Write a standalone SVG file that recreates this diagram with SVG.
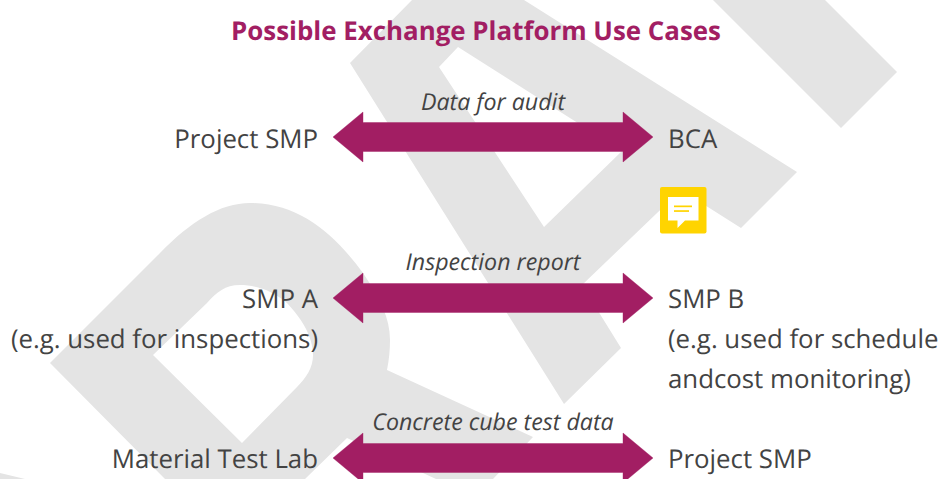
<svg xmlns="http://www.w3.org/2000/svg" width="940" height="479" viewBox="0 0 940 479">
<style>
.wm{fill:#e4e4e4;fill-rule:evenodd}
.arrow{fill:#a21e63;stroke:#a21e63;stroke-width:.4}
text{font-family:"Open Sans","Noto Sans","Liberation Sans",sans-serif;fill:#434343;text-rendering:geometricPrecision}
.t{font-size:25.8px}
.r{text-anchor:end}
.l{font-size:23.2px;font-style:italic;text-anchor:middle}
.title{font-size:25.9px;font-weight:700;fill:#a21e63;text-anchor:middle}
</style>
<defs>
<path id="dbl" d="M-160 0L-130 -25V-14.5H130V-25L160 0L130 25V14.5H-130V25Z"/>
</defs>
<g id="watermark">
<path class="wm" d="M350 63L412 0H524L797 172L741 228L681 190L582 285L621 348L564 404ZM439 67L458 47L622 151L544 227Z"/>
<path class="wm" d="M713 0H825L897 72L841 128Z"/>
<path class="wm" d="M50 363L160 253C190 222 220 203 250 203C300 203 335 235 363 273C380 298 390 318 390 340C390 350 389 360 387 370L533 437L493 479H436L347 438L305 479H165ZM153 355L207 303C217 292 225 285 240 285C255 285 272 290 287 303C300 317 313 335 313 355C313 368 306 378 297 387L242 443Z"/>
<path class="wm" d="M0 473L25 479H0Z"/>
</g>
<text id="title" class="title" x="476" y="40">Possible Exchange Platform Use Cases</text>
<g id="connectors">
<use href="#dbl" class="arrow" x="493" y="137"/>
<use href="#dbl" class="arrow" x="493" y="298"/>
<use href="#dbl" class="arrow" x="493" y="458"/>
</g>
<g id="edge-labels">
<text class="l" x="493" y="110">Data for audit</text>
<text class="l" x="493" y="270">Inspection report</text>
<text class="l" x="493" y="430">Concrete cube test data</text>
</g>
<g id="node-project-smp-1"><text class="t r" x="318" y="148">Project SMP</text></g>
<g id="node-bca"><text class="t" x="668" y="148">BCA</text></g>
<g id="node-smp-a"><text class="t r" x="318" y="308">SMP A</text><text class="t r" x="318" y="348">(e.g. used for inspections)</text></g>
<g id="node-smp-b"><text class="t" x="668" y="308">SMP B</text><text class="t" x="668" y="348">(e.g. used for schedule</text><text class="t" x="668" y="388">andcost monitoring)</text></g>
<g id="node-lab"><text class="t r" x="318" y="468">Material Test Lab</text></g>
<g id="node-project-smp-2"><text class="t" x="668" y="468">Project SMP</text></g>
<g id="comment-icon">
<rect x="660" y="187" width="46.500" height="46.500" rx="2" fill="#ffd400"/>
<path d="M668 197H698.500V220.500H685L677.500 228V220.500H668Z" fill="#fff"/>
<rect x="674" y="205.500" width="18" height="1.700" fill="#ffd400"/>
<rect x="674" y="210.200" width="15" height="1.700" fill="#ffd400"/>
</g>
</svg>
